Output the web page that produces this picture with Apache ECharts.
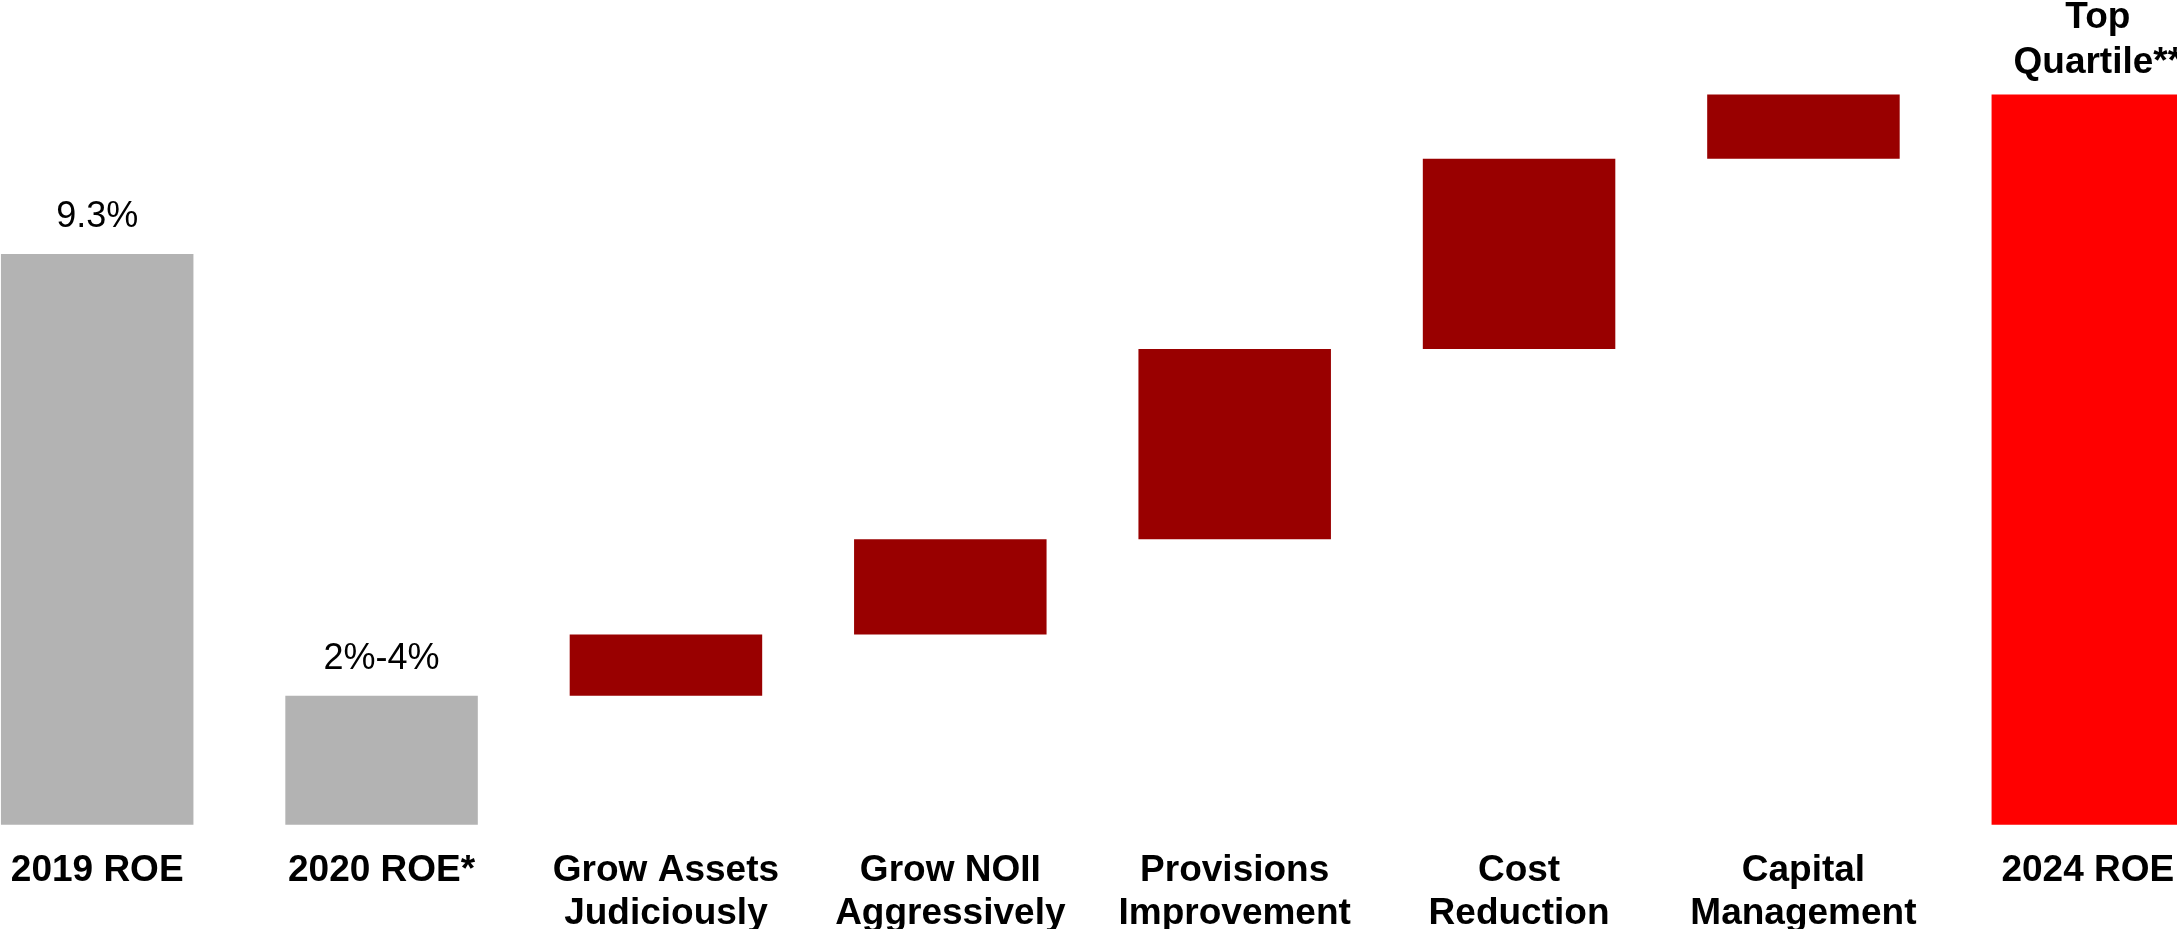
<!DOCTYPE html>
<html>
<head>
<meta charset="utf-8">
<script src="https://cdn.jsdelivr.net/npm/echarts@6/dist/echarts.min.js"></script>
<style>
  html, body { margin: 0; padding: 0; background: #ffffff; overflow: hidden; }
  body { width: 2177px; height: 929px; position: relative; }
  /* plot canvas extends past both window edges so the outer bars are cropped */
  #chart { position: absolute; left: -45px; top: 0; width: 2275px; height: 929px; }
</style>
</head>
<body>
<div id="chart"></div>
<script>
// ROE bridge: each bar floats from barStart to barEnd (percent)
const categories = [
  '2019 ROE', '2020 ROE*', 'Grow Assets\nJudiciously', 'Grow NOII\nAggressively',
  'Provisions\nImprovement', 'Cost\nReduction', 'Capital\nManagement', '2024 ROE'
];
const barStart = [0, 0, 2.1, 3.1, 4.65, 7.75, 10.85, 0];
const barEnd   = [9.3, 2.1, 3.1, 4.65, 7.75, 10.85, 11.9, 11.9];
const valueLabels = ['9.3%', '2%-4%', '', '', '', '', '', 'Top\nQuartile**'];
const barKinds = ['actual', 'actual', 'lever', 'lever', 'lever', 'lever', 'lever', 'target'];

const kindColors = { actual: '#b3b3b3', lever: '#990000', target: '#ff0000' };
const FONT = '"Liberation Sans", Arial, sans-serif';

const baseData = barStart.map(v => v);
const visibleData = barEnd.map((end, i) => {
  const item = {
    value: +(end - barStart[i]).toFixed(4),
    itemStyle: { color: kindColors[barKinds[i]] }
  };
  if (valueLabels[i]) {
    const isTarget = barKinds[i] === 'target';
    item.label = {
      show: true,
      position: 'top',
      formatter: valueLabels[i],
      fontFamily: FONT,
      fontSize: isTarget ? 37 : 36,
      fontWeight: isTarget ? 'bold' : 'normal',
      lineHeight: isTarget ? 45 : 40,
      color: '#000000',
      distance: isTarget ? 9 : 17,
      offset: isTarget ? [10, 0] : [0, 0]
    };
  }
  return item;
});

const chart = echarts.init(document.getElementById('chart'), null, { renderer: 'canvas' });
chart.setOption({
  backgroundColor: '#ffffff',
  animation: false,
  grid: {
    left: 0, right: 0, top: 88.3, bottom: 104.3,
    containLabel: false,
    outerBoundsMode: 'none'
  },
  xAxis: {
    type: 'category',
    data: categories,
    axisLine: { show: false },
    axisTick: { show: false },
    splitLine: { show: false },
    axisLabel: {
      interval: 0,
      margin: 25,
      fontFamily: FONT,
      fontSize: 37,
      fontWeight: 'bold',
      lineHeight: 43,
      color: '#000000'
    }
  },
  yAxis: {
    type: 'value',
    min: 0,
    max: 12,
    show: false,
    splitLine: { show: false }
  },
  series: [
    {
      name: 'base',
      type: 'bar',
      stack: 'bridge',
      barWidth: 192.5,
      silent: true,
      itemStyle: { color: 'transparent' },
      data: baseData
    },
    {
      name: 'ROE',
      type: 'bar',
      stack: 'bridge',
      barWidth: 192.5,
      data: visibleData
    }
  ]
});
</script>
</body>
</html>
